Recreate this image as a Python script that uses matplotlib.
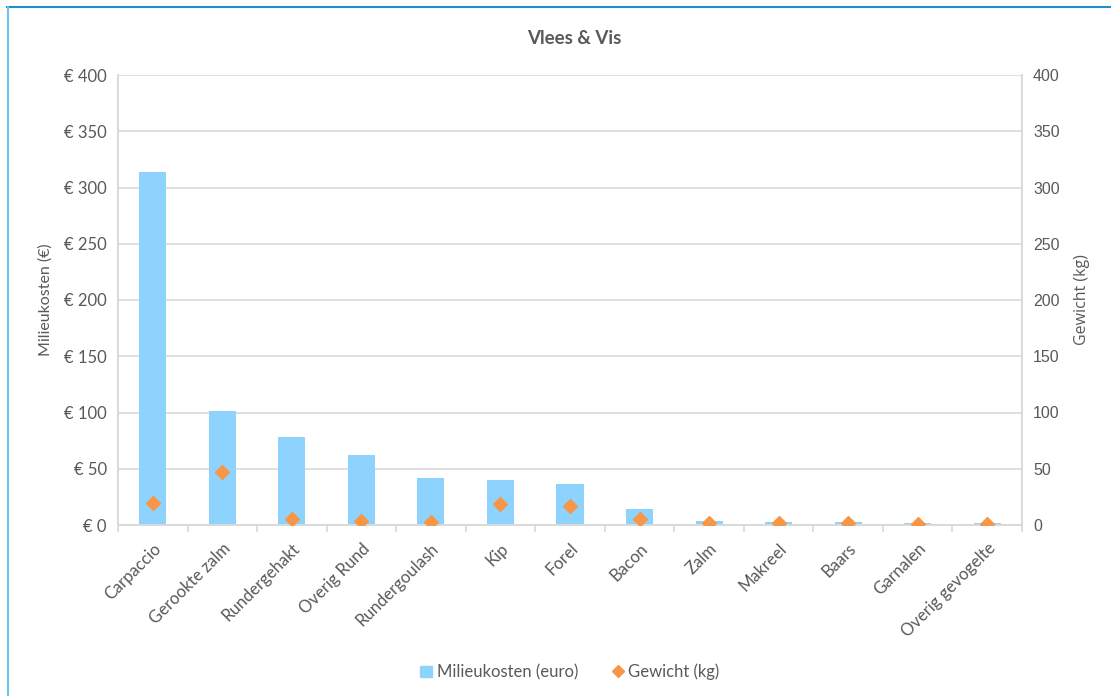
import matplotlib
matplotlib.use("Agg")
import matplotlib.pyplot as plt
from matplotlib.lines import Line2D
from matplotlib.patches import Patch
import numpy as np

categories = ["Carpaccio", "Gerookte zalm", "Rundergehakt", "Overig Rund", "Rundergoulash",
              "Kip", "Forel", "Bacon", "Zalm", "Makreel", "Baars", "Garnalen", "Overig gevogelte"]
milieukosten = [314, 101, 78, 62, 42, 40, 36.5, 14, 4, 3, 2.7, 2, 1.5]
gewicht = [20, 47, 5, 4, 2.7, 18.7, 17, 5.5, 2, 1.5, 1.5, 1, 1]
yticks = [0, 50, 100, 150, 200, 250, 300, 350, 400]

TXT = "#595959"
GRID = "#d9d9d9"
BAR = "#8ed3fd"
ORANGE = "#f79646"
plt.rcParams['font.family'] = ['Lato', 'DejaVu Sans']

fig = plt.figure(figsize=(11.11, 6.96), dpi=100)
W, H = 1111, 696
ax = fig.add_axes([118 / W, 1 - 525 / H, (1022 - 118) / W, (525 - 75) / H])
ax2 = ax.twinx()

x = np.arange(len(categories))
ax.bar(x, milieukosten, width=0.39, color=BAR, zorder=2)
ax2.scatter(x, gewicht, marker="D", s=50, color=ORANGE, zorder=3)

ax.set_xlim(-0.5, len(categories) - 0.5)
ax.set_ylim(0, 400)
ax2.set_ylim(0, 400)
ax.set_yticks(yticks)
ax.set_yticklabels([f"€ {v}" for v in yticks], fontsize=12, color=TXT)
ax2.set_yticks(yticks)
ax2.set_yticklabels([str(v) for v in yticks], fontsize=11.5, color=TXT, family=['Liberation Sans'])
ax.yaxis.grid(True, color=GRID, linewidth=1.2, zorder=0)
ax.set_axisbelow(True)

ax.set_xticks(x)
ax.set_xticklabels(categories, rotation=45, ha="right", rotation_mode="anchor", fontsize=12, color=TXT)
ax.set_xticks(np.arange(len(categories) + 1) - 0.5, minor=True)
ax.tick_params(axis="x", which="major", length=0, pad=11)
ax.tick_params(axis="x", which="minor", length=5, color=GRID, width=1.2)
ax.tick_params(axis="y", length=0, pad=8)
ax2.tick_params(axis="y", length=0, pad=8)

for a in (ax, ax2):
    a.spines["top"].set_visible(False)
    for s in ["left", "right", "bottom"]:
        a.spines[s].set_color(GRID)
        a.spines[s].set_linewidth(1.2)

ax.set_ylabel("Milieukosten (€)", fontsize=11.5, color=TXT, labelpad=8)
ax2.set_ylabel("Gewicht (kg)", fontsize=11.5, color=TXT, labelpad=10, family=['Open Sans'])

cx = (118 + 1022) / 2 / W
fig.text(cx + 4 / W, 1 - 38 / H, "Vlees & Vis", ha="center", va="center", fontsize=13.5, fontweight="bold", color=TXT)

handles = [Patch(color=BAR, label="Milieukosten (euro)"),
           Line2D([], [], marker="D", color=ORANGE, linestyle="none", markersize=6, label="Gewicht (kg)")]
fig.legend(handles=handles, loc="center", bbox_to_anchor=(cx, 1 - 672 / H), ncol=2, frameon=False,
           fontsize=12, labelcolor=TXT, handlelength=0.7, handletextpad=0.3, columnspacing=2.0)

fig.add_artist(Line2D([7 / W, 1], [1 - 7 / H, 1 - 7 / H], color="#1f8fcf", linewidth=1.5, transform=fig.transFigure))
fig.add_artist(Line2D([7.5 / W, 7.5 / W], [0, 1 - 7 / H], color="#6cc4ee", linewidth=1.5, transform=fig.transFigure))

fig.savefig("out.png", dpi=100)
